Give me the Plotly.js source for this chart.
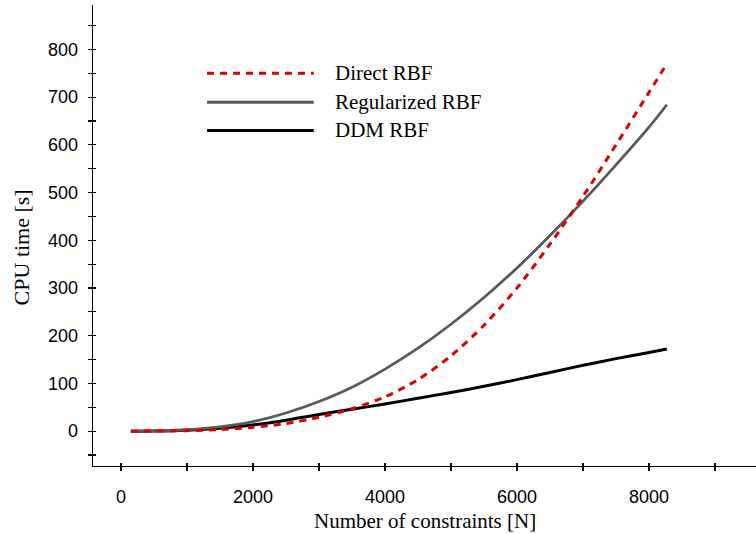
<!DOCTYPE html>
<html>
<head>
<meta charset="utf-8">
<script src="https://cdn.plot.ly/plotly-3.0.1.min.js"></script>
<style>html,body{margin:0;padding:0;background:#fff;}#chart{width:756px;height:534px;}</style>
</head>
<body>
<div id="chart"></div>
<script>
// Number of constraints [N]
const constraints = [150, 500, 1000, 1500, 2000, 2500, 3000, 3500, 4000, 4500, 5000, 5500, 6000, 6500, 7000, 7500, 8000, 8270];
// CPU time [s]
const directRBF      = [0, 0.2, 1, 3.5, 8, 16, 29, 47, 72, 108, 158, 222, 300, 392, 492, 600, 710, 770];
const regularizedRBF = [0, 0.5, 3, 9, 20, 38, 62, 92, 130, 174, 224, 280, 342, 410, 482, 558, 637, 684];
const ddmRBF         = [0, 0.3, 2, 6, 13, 23, 35, 46, 57, 69, 81, 94, 108, 123, 138, 152, 165, 172];
const seriesNames = ["Direct RBF", "Regularized RBF", "DDM RBF"];
const xTitle = "Number of constraints [N]";
const yTitle = "CPU time [s]";

const colors = ["#dd0000", "#595959", "#000000"];
const dashes = ["7px,6px", "solid", "solid"];
const widths = [3, 2.8, 3];
const values = [directRBF, regularizedRBF, ddmRBF];

const traces = values.map((v, i) => ({
  x: constraints, y: v, type: "scatter", mode: "lines", name: seriesNames[i],
  line: {color: colors[i], width: widths[i], dash: dashes[i], shape: "spline", smoothing: 0.8},
  showlegend: false, hoverinfo: "skip"
})).reverse();

const XR = [-424, 9621], YR = [-73, 893];
const tickFont = {family: "Liberation Sans, Arial, sans-serif", size: 18, color: "#000"};
const serif = {family: "Liberation Serif, Times New Roman, serif", size: 21, color: "#000"};

// legend drawn in paper coordinates
const legY = [0.852, 0.789, 0.728];
const shapes = [], annotations = [];
seriesNames.forEach((n, i) => {
  shapes.push({type: "line", xref: "paper", yref: "paper", x0: 0.172, x1: 0.333, y0: legY[i], y1: legY[i],
    line: {color: colors[i], width: widths[i], dash: dashes[i]}});
  annotations.push({xref: "paper", yref: "paper", x: 0.362, y: legY[i], xanchor: "left", yanchor: "middle",
    text: n, showarrow: false, font: serif});
});
annotations.push({xref: "paper", yref: "paper", x: 0.5, y: -0.12, xanchor: "center", yanchor: "middle",
  text: xTitle, showarrow: false, font: serif});
annotations.push({xref: "paper", yref: "paper", x: -0.108, y: 0.475, xanchor: "center", yanchor: "middle",
  text: yTitle, textangle: -90, showarrow: false, font: {family: serif.family, size: 22, color: "#000"}});

const layout = {
  width: 756, height: 534,
  margin: {l: 93, r: 0, t: 5, b: 68},
  paper_bgcolor: "#fff", plot_bgcolor: "#fff",
  showlegend: false,
  xaxis: {range: XR, showgrid: false, zeroline: false, showline: true, linecolor: "#000", linewidth: 1.3,
    ticks: "outside", ticklen: 4, tickwidth: 1.2, tickcolor: "#000", dtick: 2000, tick0: 0,
    minor: {ticks: "outside", ticklen: 4, tickwidth: 1.2, tickcolor: "#000", dtick: 1000, tick0: 0, showgrid: false},
    tickfont: tickFont, ticklabelstandoff: 10, fixedrange: true},
  yaxis: {range: YR, showgrid: false, zeroline: false, showline: true, linecolor: "#000", linewidth: 1.3,
    ticks: "outside", ticklen: 4, tickwidth: 1.2, tickcolor: "#000", dtick: 100, tick0: 0,
    minor: {ticks: "outside", ticklen: 4, tickwidth: 1.2, tickcolor: "#000", dtick: 50, tick0: 0, showgrid: false},
    tickfont: tickFont, ticklabelstandoff: 6, fixedrange: true},
  xaxis2: {range: XR, overlaying: "x", anchor: "y", side: "bottom", showgrid: false, zeroline: false,
    showticklabels: false, ticks: "inside", ticklen: 3, tickwidth: 1.2, tickcolor: "#000", dtick: 1000, tick0: 0, fixedrange: true},
  yaxis2: {range: YR, overlaying: "y", anchor: "x", side: "left", showgrid: false, zeroline: false,
    showticklabels: false, ticks: "inside", ticklen: 3, tickwidth: 1.2, tickcolor: "#000", dtick: 50, tick0: 0, fixedrange: true},
  shapes: shapes,
  annotations: annotations
};
traces.push({x: [], y: [], xaxis: "x2", yaxis: "y2", type: "scatter", showlegend: false, hoverinfo: "skip"});
Plotly.newPlot("chart", traces, layout, {displayModeBar: false, staticPlot: true});
</script>
</body>
</html>
